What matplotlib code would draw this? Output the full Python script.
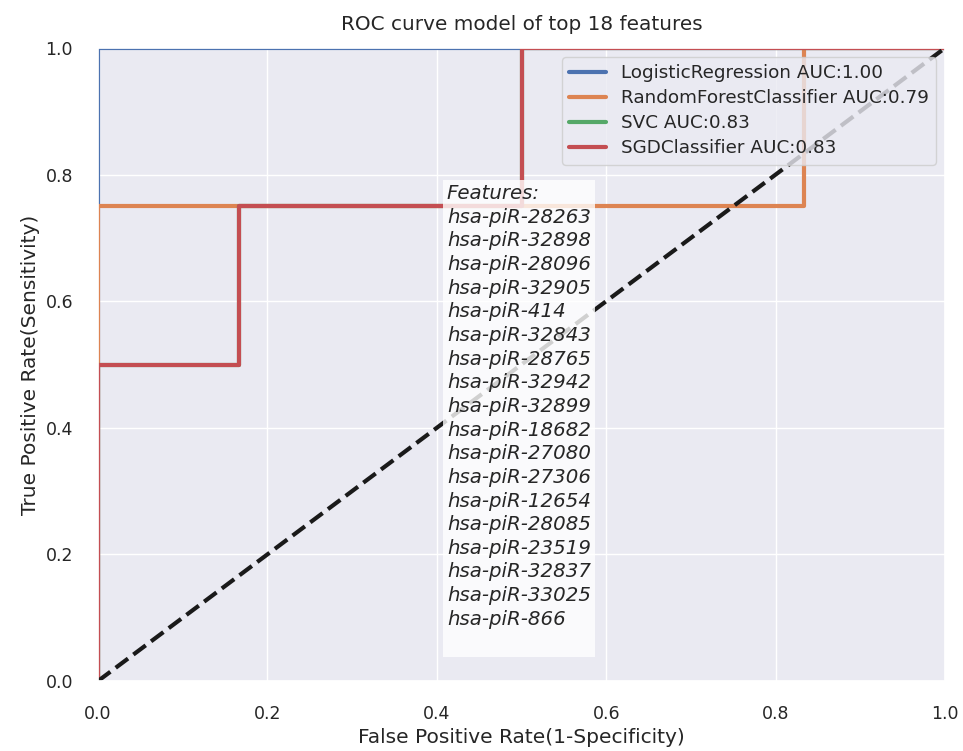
import matplotlib
matplotlib.use("Agg")
import matplotlib.pyplot as plt
import seaborn as sns

sns.set_theme(style="darkgrid")

models = ["LogisticRegression", "RandomForestClassifier", "SVC", "SGDClassifier"]
aucs = [1.00, 0.79, 0.83, 0.83]
colors = ["#4C72B0", "#DD8452", "#55A868", "#C44E52"]

fpr_lr = [0.0, 0.0, 1.0]
tpr_lr = [0.0, 1.0, 1.0]
fpr_rf = [0.0, 0.0, 0.8333, 0.8333, 1.0]
tpr_rf = [0.0, 0.75, 0.75, 1.0, 1.0]
fpr_svc = [0.0, 0.0, 0.1667, 0.1667, 0.5, 0.5, 1.0]
tpr_svc = [0.0, 0.5, 0.5, 0.75, 0.75, 1.0, 1.0]
fpr_sgd = [0.0, 0.0, 0.1667, 0.1667, 0.5, 0.5, 1.0]
tpr_sgd = [0.0, 0.5, 0.5, 0.75, 0.75, 1.0, 1.0]

features = ["hsa-piR-28263", "hsa-piR-32898", "hsa-piR-28096", "hsa-piR-32905",
            "hsa-piR-414", "hsa-piR-32843", "hsa-piR-28765", "hsa-piR-32942",
            "hsa-piR-32899", "hsa-piR-18682", "hsa-piR-27080", "hsa-piR-27306",
            "hsa-piR-12654", "hsa-piR-28085", "hsa-piR-23519", "hsa-piR-32837",
            "hsa-piR-33025", "hsa-piR-866"]

fig = plt.figure(figsize=(9.63, 7.51), dpi=100)
ax = fig.add_axes([98/963, 1-681/751, (945-98)/963, (681-48)/751])

curves = [(fpr_lr, tpr_lr), (fpr_rf, tpr_rf), (fpr_svc, tpr_svc), (fpr_sgd, tpr_sgd)]
for (f, t), name, auc, c in zip(curves, models, aucs, colors):
    ax.plot(f, t, color=c, lw=3, label=f"{name} AUC:{auc:.2f}")

ax.plot([0, 1], [0, 1], "k--", lw=3)
ax.set_xlim(0, 1)
ax.set_ylim(0, 1)
ax.set_xlabel("False Positive Rate(1-Specificity)", fontsize=14.5)
ax.set_ylabel("True Positive Rate(Sensitivity)", fontsize=14.5)
ax.set_title("ROC curve model of top 18 features", fontsize=14.4, pad=13)
ax.tick_params(axis="x", labelsize=12.5, pad=11)
ax.tick_params(axis="y", labelsize=12.5, pad=12)
ax.legend(loc="upper right", fontsize=13.2, labelspacing=0.38)

txt = "Features:\n" + "\n".join(features) + "\n"
ax.text(0.412, 0.785, txt, fontsize=14.2, style="italic", va="top", ha="left",
        linespacing=1.31,
        bbox=dict(facecolor="white", alpha=0.8, edgecolor="none", pad=3))

fig.savefig("out.png", dpi=100)
